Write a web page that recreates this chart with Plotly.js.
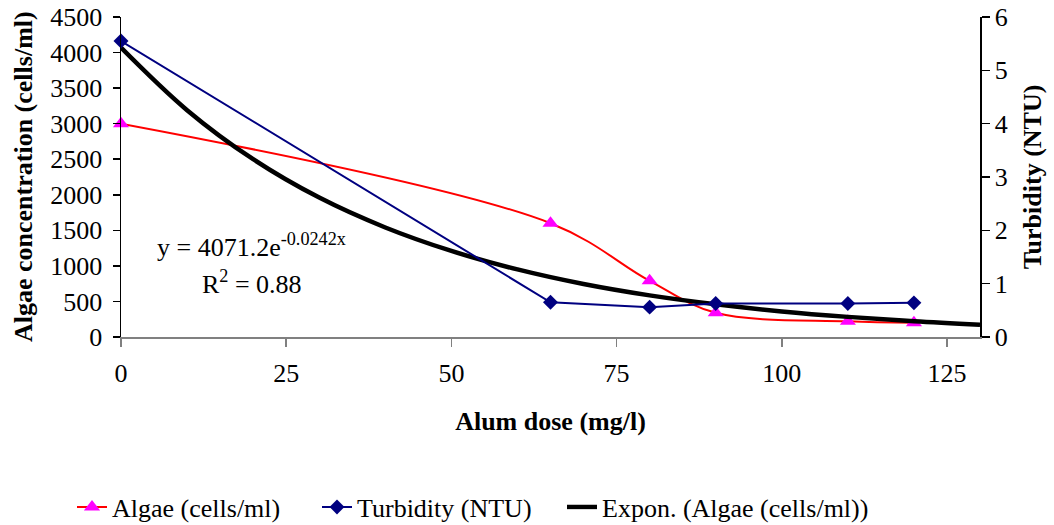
<!DOCTYPE html>
<html>
<head>
<meta charset="utf-8">
<script src="https://cdn.plot.ly/plotly-3.0.1.min.js"></script>
<style>html,body{margin:0;padding:0;background:#fff;}#chart{width:1054px;height:525px;}</style>
</head>
<body>
<div id="chart"></div>
<script>
// Alum dose (mg/l)
const doses = [0, 65, 80, 90, 110, 120];
// Algae concentration (cells/ml)
const algae = [3000, 1600, 790, 340, 220, 200];
// Turbidity (NTU)
const turbidity = [5.55, 0.65, 0.56, 0.63, 0.63, 0.64];
// Exponential trendline values
const trendX = [0, 10, 20, 30, 40, 50, 60, 70, 80, 90, 100, 110, 120, 130];
const trendY = [4070, 3190, 2500, 1960, 1540, 1210, 950, 745, 585, 460, 360, 283, 222, 174];
const xTicks = [0, 25, 50, 75, 100, 125];
const yLeftTicks = [0, 500, 1000, 1500, 2000, 2500, 3000, 3500, 4000, 4500];
const yRightTicks = [0, 1, 2, 3, 4, 5, 6];

const FONT = 'Liberation Serif';
const FS = 26;

const traces = [
  {
    x: doses, y: algae, name: 'Algae (cells/ml)', type: 'scatter', mode: 'lines+markers',
    line: {color: '#ff0000', width: 2, shape: 'spline', smoothing: 1},
    marker: {symbol: 'triangle-up', color: '#ff00ff', size: 14},
    yaxis: 'y', cliponaxis: false
  },
  {
    x: doses, y: turbidity, name: 'Turbidity (NTU)', type: 'scatter', mode: 'lines+markers',
    line: {color: '#000080', width: 2},
    marker: {symbol: 'diamond', color: '#000080', size: 11.5},
    yaxis: 'y2', cliponaxis: false
  },
  {
    x: trendX, y: trendY, name: 'Expon. (Algae (cells/ml))', type: 'scatter', mode: 'lines',
    line: {color: '#000000', width: 4.5, shape: 'spline'},
    yaxis: 'y', legendwidth: 300
  }
];

const layout = {
  width: 1054, height: 525,
  margin: {l: 121, r: 74, t: 17, b: 188, autoexpand: false},
  paper_bgcolor: '#ffffff', plot_bgcolor: '#ffffff',
  font: {family: FONT, size: FS, color: '#000'},
  showlegend: true,
  legend: {
    orientation: 'h', x: (72 - 121) / 859, xanchor: 'left', y: (337 - 507) / 320, yanchor: 'middle',
    font: {family: FONT, size: FS, color: '#000'}, itemwidth: 30, tracegroupgap: 0,
    entrywidth: 200, entrywidthmode: 'pixels',
    bgcolor: 'rgba(0,0,0,0)'
  },
  xaxis: {
    range: [0, 130], tickvals: xTicks, ticktext: xTicks.map(String),
    showgrid: false, zeroline: false, showline: true, linecolor: '#808080', linewidth: 1.5,
    ticks: 'outside', ticklen: 8, tickcolor: '#808080', tickwidth: 1.5,
    tickfont: {family: FONT, size: FS}, ticklabelstandoff: 4,
    title: {text: '<b>Alum dose (mg/l)</b>', font: {family: FONT, size: FS}, standoff: 25}
  },
  yaxis: {
    range: [0, 4500], tickvals: yLeftTicks, ticktext: yLeftTicks.map(String),
    showgrid: false, zeroline: false, showline: true, linecolor: '#000', linewidth: 1.5,
    ticks: 'outside', ticklen: 7, tickcolor: '#000', tickwidth: 1.5,
    tickfont: {family: FONT, size: FS}, ticklabelstandoff: 5
  },
  yaxis2: {
    range: [0, 6], tickvals: yRightTicks, ticktext: yRightTicks.map(String),
    overlaying: 'y', side: 'right', anchor: 'x',
    showgrid: false, zeroline: false, showline: true, linecolor: '#000', linewidth: 1.5,
    ticks: 'outside', ticklen: 8, tickcolor: '#000', tickwidth: 1.5,
    tickfont: {family: FONT, size: FS},
    title: {text: '<b>Turbidity (NTU)</b>', font: {family: FONT, size: FS}, standoff: 16}
  },
  yaxis3: {
    range: [0, 6], tickvals: yRightTicks, showticklabels: false,
    overlaying: 'y', side: 'right', anchor: 'x',
    showgrid: false, zeroline: false, showline: false,
    ticks: 'inside', ticklen: 8, tickcolor: '#000', tickwidth: 1.5
  },
  annotations: [
    {xref: 'paper', yref: 'paper', x: (23 - 121) / 859, y: 0.5, textangle: -90,
     text: '<b>Algae concentration (cells/ml)</b>', showarrow: false, xanchor: 'center', yanchor: 'middle',
     font: {family: FONT, size: FS}},
    {xref: 'paper', yref: 'paper', x: (155 - 121) / 859, y: (337 - 245) / 320,
     text: 'y = 4071.2e<sup>-0.0242x</sup>', showarrow: false, xanchor: 'left', yanchor: 'middle',
     font: {family: FONT, size: FS}},
    {xref: 'paper', yref: 'paper', x: (200 - 121) / 859, y: (337 - 282) / 320,
     text: 'R<sup>2</sup> = 0.88', showarrow: false, xanchor: 'left', yanchor: 'middle',
     font: {family: FONT, size: FS}}
  ]
};

Plotly.newPlot('chart', traces, layout, {displayModeBar: false, staticPlot: true});
</script>
</body>
</html>
